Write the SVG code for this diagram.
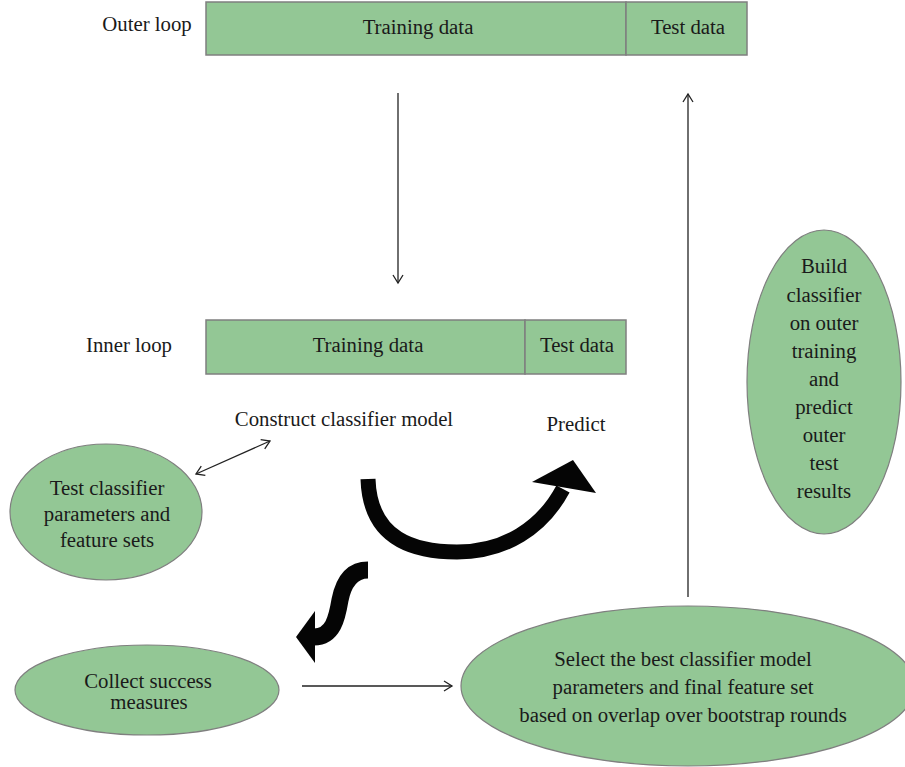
<svg xmlns="http://www.w3.org/2000/svg" width="905" height="767" viewBox="0 0 905 767">
<style>
  .box{fill:#93c795;stroke:#7f7f7f;stroke-width:1.5}
  .ell{fill:#93c795;stroke:#7f7f7f;stroke-width:1.2}
  text{font-family:"Liberation Serif","DejaVu Serif",serif;font-size:20.8px;fill:#1a1a1a;text-anchor:middle;dominant-baseline:central}
  .ln{stroke:#222;stroke-width:1.3;fill:none}
  .thick{stroke:#050505;fill:none;stroke-linecap:butt}
</style>
<defs>
  <marker id="open" markerWidth="12" markerHeight="12" refX="9" refY="6" orient="auto" markerUnits="userSpaceOnUse">
    <path d="M1,1 L9,6 L1,11" fill="none" stroke="#222" stroke-width="1.3"/>
  </marker>
  <marker id="openS" markerWidth="12" markerHeight="12" refX="3" refY="6" orient="auto" markerUnits="userSpaceOnUse">
    <path d="M11,1 L3,6 L11,11" fill="none" stroke="#222" stroke-width="1.3"/>
  </marker>
</defs>
<rect width="905" height="767" fill="#fff"/>

<g id="outer-loop">
  <text x="147" y="23.5">Outer loop</text>
  <rect class="box" x="206" y="2" width="420" height="53"/>
  <rect class="box" x="626" y="2" width="121" height="53"/>
  <text x="418" y="26.5">Training data</text>
  <text x="688" y="26.5">Test data</text>
</g>

<g id="inner-loop">
  <text x="129" y="344.5">Inner loop</text>
  <rect class="box" x="206" y="320" width="319" height="54"/>
  <rect class="box" x="525" y="320" width="101" height="54"/>
  <text x="368" y="344.5">Training data</text>
  <text x="577" y="344.5">Test data</text>
</g>

<g id="construct">
  <text x="344" y="418.5">Construct classifier model</text>
</g>
<g id="predict">
  <text x="576" y="423.5">Predict</text>
</g>

<g id="test-classifier">
  <ellipse class="ell" cx="106" cy="512" rx="96" ry="68"/>
  <text x="107" y="487.5">Test classifier</text>
  <text x="107" y="513.5">parameters and</text>
  <text x="107" y="539.5">feature sets</text>
</g>

<g id="collect">
  <ellipse class="ell" cx="147" cy="690" rx="132" ry="45"/>
  <text x="148" y="680.5">Collect success</text>
  <text x="149" y="701.5">measures</text>
</g>

<g id="select">
  <ellipse class="ell" cx="688" cy="686" rx="227" ry="80"/>
  <text x="683" y="658.5">Select the best classifier model</text>
  <text x="683" y="686.5">parameters and final feature set</text>
  <text x="683" y="714.5">based on overlap over bootstrap rounds</text>
</g>

<g id="build">
  <ellipse class="ell" cx="824" cy="382" rx="77" ry="152"/>
  <text x="824" y="265.5">Build</text>
  <text x="824" y="294.5">classifier</text>
  <text x="824" y="322.5">on outer</text>
  <text x="824" y="350.5">training</text>
  <text x="824" y="378.5">and</text>
  <text x="824" y="406.5">predict</text>
  <text x="824" y="434.5">outer</text>
  <text x="824" y="462.5">test</text>
  <text x="824" y="490.5">results</text>
</g>

<g id="connectors">
  <line class="ln" x1="398" y1="93" x2="398" y2="283" marker-end="url(#open)"/>
  <line class="ln" x1="688" y1="597" x2="688" y2="94" marker-end="url(#open)" stroke="#444"/>
  <line class="ln" x1="196" y1="474" x2="270" y2="441" marker-start="url(#openS)" marker-end="url(#open)"/>
  <line class="ln" x1="302" y1="686" x2="452" y2="686" marker-end="url(#open)"/>
  <path class="thick" stroke-width="15" d="M368,479 C370,540 415,552 457,552 C505,552 542,528 563,489"/>
  <polygon fill="#050505" points="532,482 573,460 596,493"/>
  <path class="thick" stroke-width="17" d="M368,570 C350,570 343,585 340,600 C337,618 333,637 314,637"/>
  <polygon fill="#050505" points="296,637 315,611 315,663"/>
</g>
</svg>
